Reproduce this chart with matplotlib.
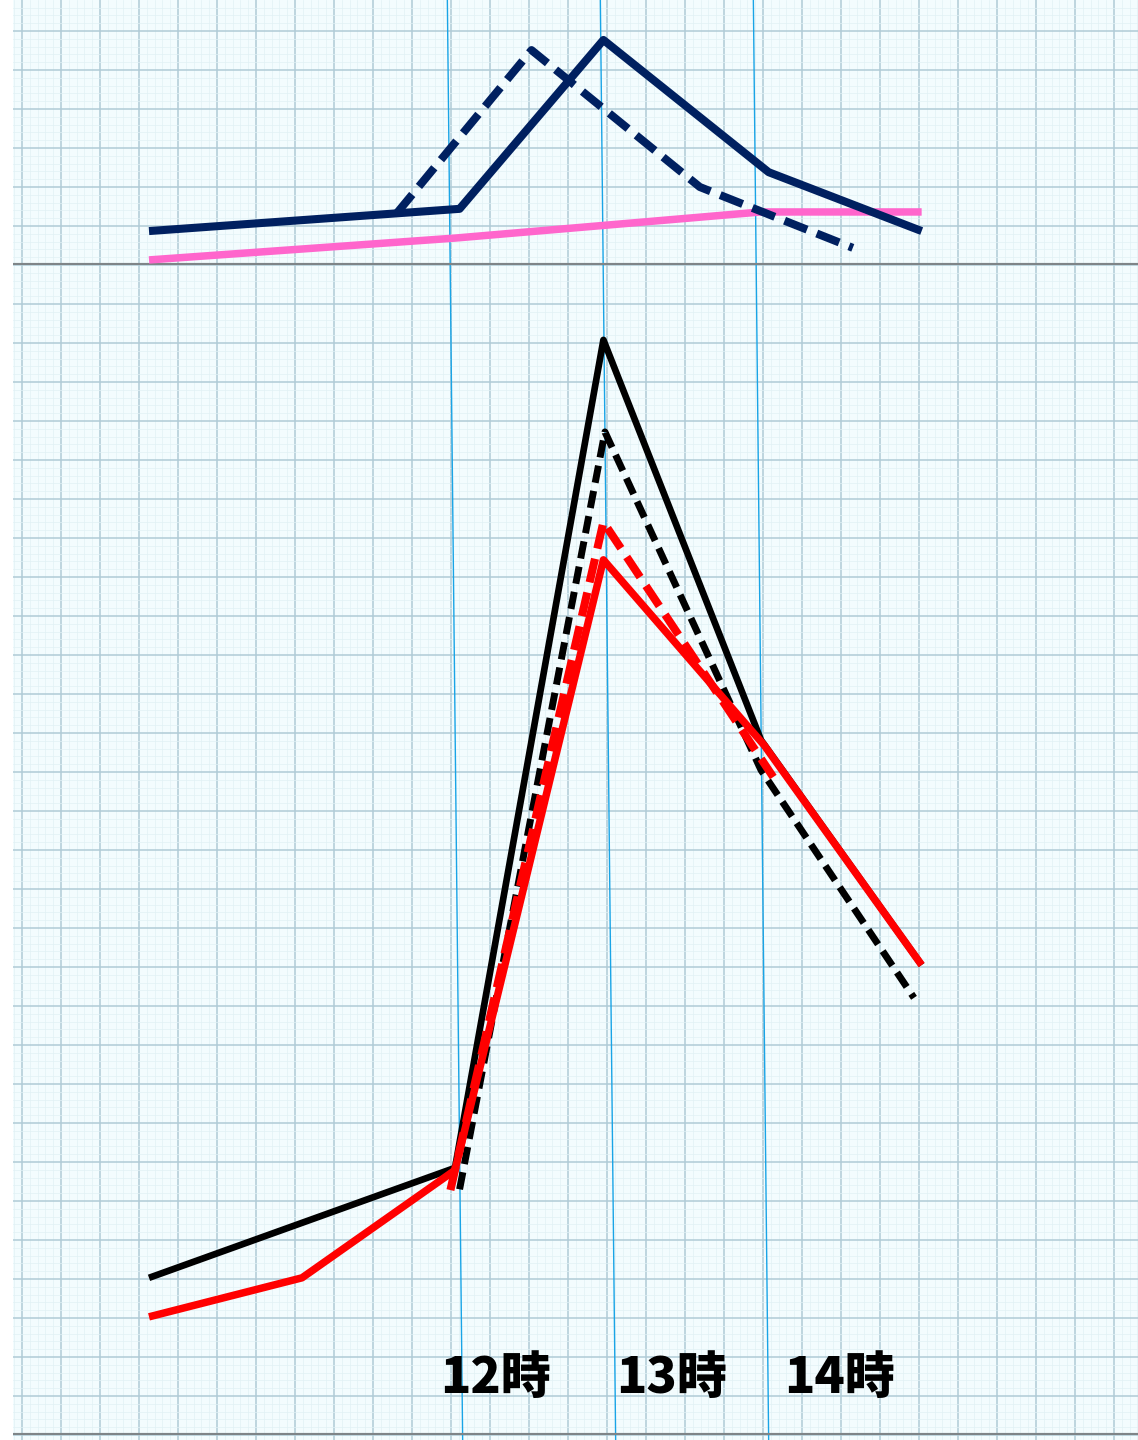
import numpy as np
import matplotlib
matplotlib.use("Agg")
import matplotlib.pyplot as plt
from matplotlib.ticker import MultipleLocator

# ---- data (x in hours, y in paper units: 10 per big square) ----
hours_labels = ["12時", "13時", "14時"]
hour_lines = [12, 13, 14]

# top panel
navy_x = [10, 12.03, 12.97, 14.05, 15.05]
navy_y = [8.7, 14.4, 57.7, 23.8, 8.7]
navy_dash_x = [11.62, 12.5, 13.6, 14.6]
navy_dash_y = [13.3, 55.1, 20.0, 4.4]
pink_x = [10, 12, 14.0, 15.05]
pink_y = [1.3, 6.9, 13.6, 13.6]

# bottom panel
black_x = [10, 12.0, 12.97, 14.0, 15.05]
black_y = [40.3, 68.5, 280.8, 178.2, 120.5]
black_dash_x = [12.03, 12.98, 14.0, 15.0]
black_dash_y = [63.0, 257.2, 170.5, 112.1]
red_x = [10, 11, 12.0, 12.97, 14.02, 15.05]
red_y = [30.3, 40.3, 67.9, 224.4, 176.9, 120.5]
red_dash_x = [11.97, 12.97, 14.08]
red_dash_y = [62.8, 234.1, 168.7]

W, H = 1138, 1440
fig = plt.figure(figsize=(W / 100, H / 100), dpi=100)
left = 13 / W
xlim = (12 + (13 - 455) / 153, 12 + (1138 - 455) / 153)

# graph paper background
paper = fig.add_axes([left, 0, 1 - left, 1])
paper.set_facecolor("#f3fcfe")
paper.set_xlim(-9 / 39, (W - 13 - 9) / 39)
paper.set_ylim(-5 / 39, (H - 5) / 39)
paper.xaxis.set_major_locator(MultipleLocator(1))
paper.yaxis.set_major_locator(MultipleLocator(1))
paper.xaxis.set_minor_locator(MultipleLocator(0.2))
paper.yaxis.set_minor_locator(MultipleLocator(0.2))
paper.grid(which="major", color="#b0cbd6", lw=1.1)
paper.grid(which="minor", color="#e1f1f5", lw=0.5)
paper.tick_params(which="both", length=0, labelbottom=False, labelleft=False)
for s in paper.spines.values():
    s.set_visible(False)

# overlay with hour lines and labels
over = fig.add_axes([left, 0, 1 - left, 1], facecolor="none")
over.set_xlim(*xlim)
over.set_ylim(0, 1)
over.axis("off")
for h in hour_lines:
    over.plot([h - 0.05, h + 0.05], [1, 0], color="#19a4e6", lw=1.0)
label_shift = [-0.1, 0.05, 0.15]
for h, lab, dx in zip(hour_lines, hours_labels, label_shift):
    over.text(h + dx, (H - 1378) / H, lab, ha="left", va="center",
              fontsize=36, fontweight="heavy",
              family=["Noto Sans CJK JP", "DejaVu Sans"])

# top chart
top = fig.add_axes([left, (H - 265) / H, 1 - left, 265 / H], facecolor="none")
top.set_xlim(*xlim)
top.set_ylim(0, 265 / 3.9)
top.axis("off")
top.axhline(0, color="#7f8588", lw=3.0)
top.plot(pink_x, pink_y, color="#ff66cc", lw=5.4, solid_capstyle="butt")
top.plot(navy_x, navy_y, color="#002060", lw=5.8, solid_capstyle="butt")
top.plot(navy_dash_x, navy_dash_y, color="#002060", lw=5.8,
         dashes=(3.0, 1.3))

# bottom chart
bot = fig.add_axes([left, 5 / H, 1 - left, 1170 / H], facecolor="none")
bot.set_xlim(*xlim)
bot.set_ylim(0, 1170 / 3.9)
bot.axis("off")
bot.axhline(0, color="#7f8588", lw=3.0)
bot.plot(black_x, black_y, color="black", lw=4.8, solid_capstyle="butt")
bot.plot(black_dash_x, black_dash_y, color="black", lw=5.0,
         dashes=(2.5, 1.2))
bot.plot(red_x, red_y, color="#ff0000", lw=5.4, solid_capstyle="butt")
bot.plot(red_dash_x, red_dash_y, color="#ff0000", lw=5.8,
         dashes=(3.0, 1.3))

fig.savefig("out.png", dpi=100, facecolor="white")
